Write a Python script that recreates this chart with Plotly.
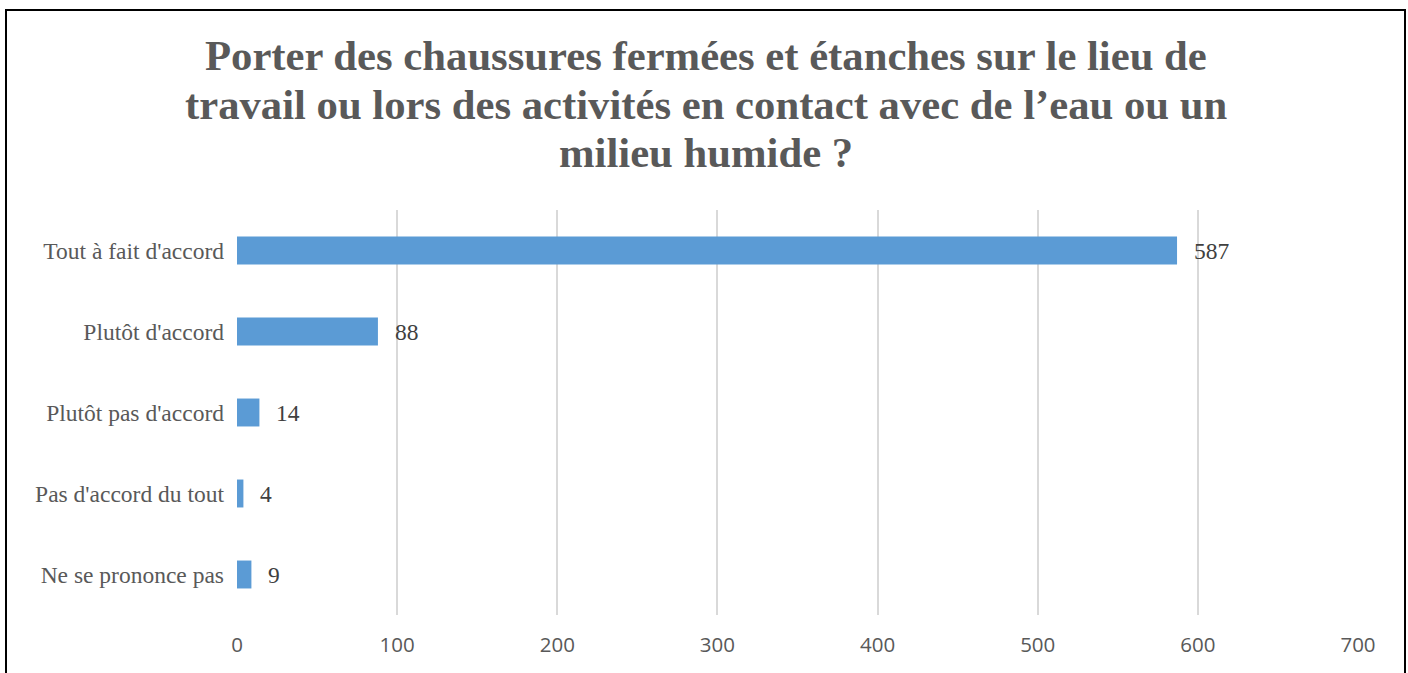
import plotly.graph_objects as go

categories = ["Tout à fait d'accord", "Plutôt d'accord", "Plutôt pas d'accord",
              "Pas d'accord du tout", "Ne se prononce pas"]
values = [587, 88, 14, 4, 9]
tick_vals = [0, 100, 200, 300, 400, 500, 600, 700]
title_lines = ["Porter des chaussures fermées et étanches sur le lieu de",
               "travail ou lors des activités en contact avec de l’eau ou un",
               "milieu humide ?"]

W, H = 1408, 673
L, R, T, B = 237, 50, 209.5, 57.5
pw, ph = W - L - R, H - T - B


def px_x(p):
    return (p - L) / pw


def px_y(p):
    return (H - B - p) / ph


fig = go.Figure()
fig.add_trace(go.Bar(
    y=categories, x=values, orientation="h",
    marker=dict(color="#5B9BD5", line=dict(width=0)),
    width=0.345, hoverinfo="skip",
))

for c, v in zip(categories, values):
    fig.add_annotation(x=v, y=c, text=str(v), showarrow=False,
                       xanchor="left", xshift=15,
                       font=dict(family="Liberation Serif", size=23.5, color="#404040"))

title_centers = [55, 104, 152]
for line, yc in zip(title_lines, title_centers):
    fig.add_annotation(xref="paper", yref="paper", x=px_x(706), y=px_y(yc),
                       text="<b>" + line + "</b>", showarrow=False,
                       xanchor="center", yanchor="middle",
                       font=dict(family="Liberation Serif", size=42.7, color="#595959"))

fig.add_shape(type="rect", xref="paper", yref="paper",
              x0=px_x(6), x1=px_x(1405),
              y0=px_y(700), y1=px_y(9),
              line=dict(color="black", width=2), fillcolor="rgba(0,0,0,0)", layer="above")

fig.update_layout(
    width=W, height=H,
    margin=dict(l=L, r=R, t=T, b=B, pad=0),
    paper_bgcolor="white", plot_bgcolor="white",
    showlegend=False,
    xaxis=dict(range=[0, 700], tickvals=tick_vals, showgrid=True,
               gridcolor="#D9D9D9", gridwidth=2, zeroline=False,
               showline=False, ticks="", ticklabelstandoff=15,
               tickfont=dict(family="Open Sans", size=20.5, color="#595959")),
    yaxis=dict(categoryorder="array", categoryarray=categories[::-1],
               showgrid=False, zeroline=False, showline=False, ticks="",
               ticklabelstandoff=12,
               tickfont=dict(family="Liberation Serif", size=23.5, color="#595959")),
    bargap=0.655,
)

fig.write_html("out.html", config={"displayModeBar": False},
               post_script="document.body.style.margin='0';")
